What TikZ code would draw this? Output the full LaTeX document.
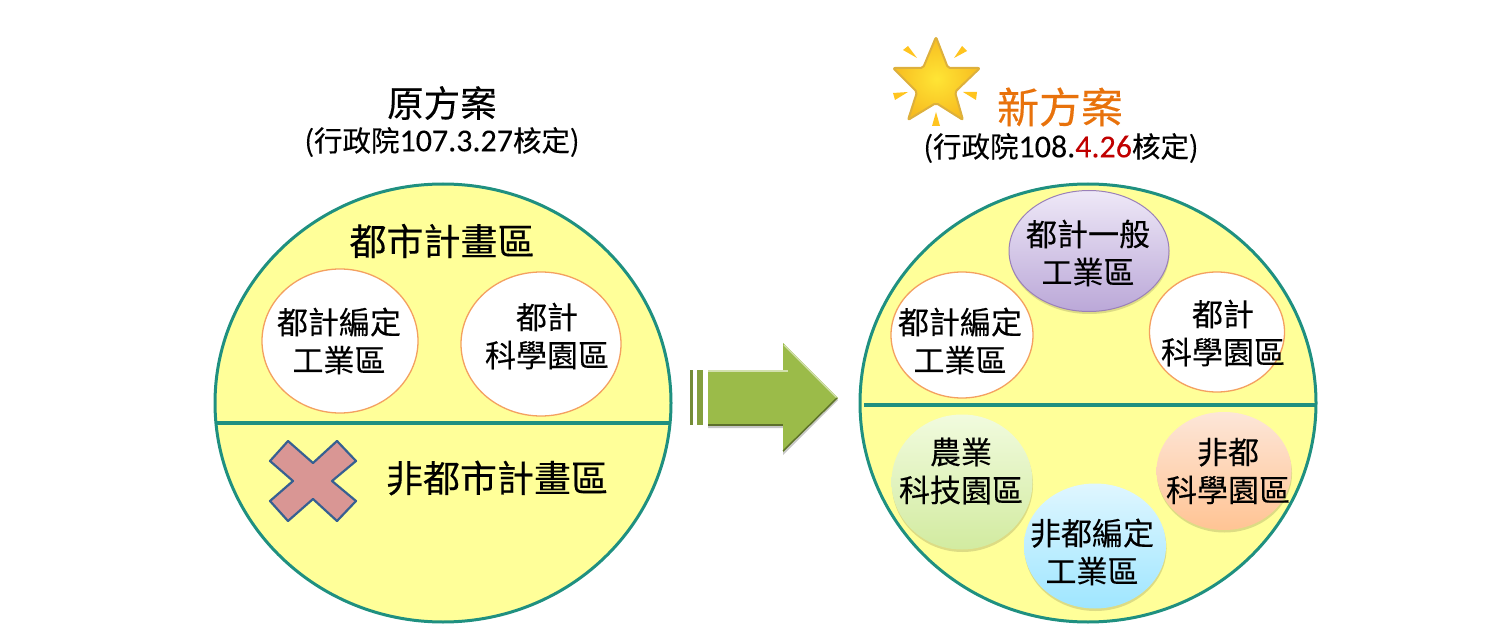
\documentclass[tikz,border=0pt]{standalone}
\usepackage{fontspec}
\setmainfont[FakeBold=0.25]{Noto Sans CJK TC}
\newfontfamily\latf[FakeBold=0.1]{Carlito}
\usetikzlibrary{shapes.geometric,shadows}
\definecolor{zoneyellow}{HTML}{FFFF99}
\definecolor{zoneteal}{HTML}{1F9080}
\definecolor{ringorange}{HTML}{F4A060}
\definecolor{oran}{HTML}{E8720C}
\definecolor{redd}{HTML}{C00000}
\definecolor{crossfill}{HTML}{D99694}
\definecolor{crossline}{HTML}{376092}
\definecolor{arrowmid}{HTML}{9BBB49}
\definecolor{starin}{HTML}{FFE535}
\definecolor{starout}{HTML}{F7BC20}
\definecolor{starline}{HTML}{DDB03C}
\definecolor{rayc}{HTML}{FFC41F}
\definecolor{purpT}{HTML}{EEE8F7}
\definecolor{purpB}{HTML}{BBA8D8}
\definecolor{purpL}{HTML}{9A80B8}
\definecolor{greenT}{HTML}{F1FBDE}
\definecolor{greenB}{HTML}{D2EBA0}
\definecolor{orT}{HTML}{FDE6D8}
\definecolor{orB}{HTML}{FFC494}
\definecolor{blT}{HTML}{DFF6FF}
\definecolor{blB}{HTML}{9FE6FF}
\tikzset{
  zone/.style={ellipse,draw=zoneteal,line width=3pt,fill=zoneyellow,inner sep=0pt,minimum width=456pt,minimum height=438pt},
  divider/.style={draw=zoneteal,line width=3.2pt},
  bubble/.style={ellipse,inner sep=0pt},
  plain/.style={bubble,fill=white,draw=ringorange,line width=1.3pt},
  soft/.style={bubble,drop shadow={shadow xshift=0.5pt,shadow yshift=-2.5pt,opacity=.25,fill=black!60!yellow}},
  lbl/.style={inner sep=0pt,align=center,font=\fontsize{31}{38}\selectfont},
  zonelbl/.style={inner sep=0pt,font=\fontsize{37}{40}\selectfont},
  subt/.style={inner sep=0pt,font=\fontsize{28.5}{30}\selectfont},
}
\begin{document}
\begin{tikzpicture}[x=1pt,y=-1pt]
\useasboundingbox (0,0) rectangle (1491,628);
% titles
\node[inner sep=0pt,font=\fontsize{36.5}{40}\selectfont] (t1) at (442,103) {原方案};
\node[subt] (s1) at (442,142) {(行政院{\latf\fontsize{32}{30}\selectfont 107.3.27}核定)};
\node[inner sep=0pt,text=oran,font=\fontsize{42}{44}\selectfont] (t2) at (1060,107) {新方案};
\node[subt] (s2) at (1061,148) {(行政院{\latf\fontsize{32}{30}\selectfont 108.\textcolor{redd}{4.26}}核定)};
% star
\path[draw=starline,line width=2pt,rounded corners=2pt,line join=round,
  shading=radial,inner color=starin,outer color=starout]
  (936,37) -- (948,68) -- (980,68) -- (955,92) -- (963,120) -- (936,103) -- (908,120) -- (917,92) -- (893,68) -- (923,68) -- cycle;
\foreach \r in {{(903,50) -- (908,46) -- (917,58)},{(954,58) -- (962,46) -- (967,51)},{(893,93) -- (908,92) -- (895,100)},{(963,92) -- (977,92) -- (976,100)},{(936,112) -- (932,126) -- (940,126)}}
  \fill[rayc] \r -- cycle;
% zones
\node[zone] (zl) at (443,403) {};
\node[zone] (zr) at (1088,403) {};
\coordinate (dl1) at (216,423); \coordinate (dl2) at (671,423);
\coordinate (dr1) at (864,405); \coordinate (dr2) at (1316,405);
\draw[divider] (dl1) -- (dl2);
\draw[divider] (dr1) -- (dr2);
% left
\node[zonelbl] (lt1) at (442,241) {都市計畫區};
\node[zonelbl] (lt2) at (497,478) {非都市計畫區};
\node[plain,minimum width=156pt,minimum height=144pt] (la) at (340,341) {};
\node[plain,minimum width=160pt,minimum height=144pt] (lb) at (541,344) {};
\node[lbl] (lat) at (339,341) {都計編定\\工業區};
\node[lbl] (lbt) at (547,336) {都計\\科學園區};
\path[fill=crossfill,draw=crossline,line width=2.2pt,line join=round]
  (288,441) -- (313,463) -- (337,441) -- (356,461) -- (332,481) -- (356,501) -- (337,521) -- (313,499) -- (288,521) -- (270,501) -- (293,481) -- (270,461) -- cycle;
% arrow
\fill[arrowmid!75!black] (690,370) rectangle (693,425);
\fill[arrowmid!85!black] (697,370) rectangle (703,425);
\fill[black,opacity=.22] (708,372) -- (783,372) -- (783,345) -- (838,400) -- (783,455) -- (783,428) -- (708,428) -- cycle;
\path[fill=arrowmid] (708,370) -- (783,370) -- (783,343) -- (838,398) -- (783,452) -- (783,425) -- (708,425) -- cycle;
\draw[arrowmid!45!white,line width=1.4pt] (708,371) -- (788,371);
\draw[arrowmid!45!white,line width=1.4pt] (784,345) -- (837,398);
\draw[arrowmid!60!black,line width=1.4pt] (837,398) -- (783,451);
\draw[arrowmid!60!black,line width=1.4pt] (708,425) -- (783,425);
% right
\node[soft,draw=purpL,line width=1pt,top color=purpT,bottom color=purpB,minimum width=160pt,minimum height=121pt] (ra) at (1089,251) {};
\node[lbl] (rat) at (1088,253) {都計一般\\工業區};
\node[plain,minimum width=142pt,minimum height=126pt] (rb) at (962,335) {};
\node[lbl] (rbt) at (960,341) {都計編定\\工業區};
\node[plain,minimum width=135pt,minimum height=120pt] (rc) at (1217,332) {};
\node[lbl] (rct) at (1223,333) {都計\\科學園區};
\node[soft,top color=greenT,bottom color=greenB,minimum width=141pt,minimum height=135pt] (rd) at (962,482) {};
\node[lbl] (rdt) at (961,471) {農業\\科技園區};
\node[soft,top color=orT,bottom color=orB,minimum width=135pt,minimum height=118pt] (re) at (1224,471) {};
\node[lbl] (ret) at (1228,471) {非都\\科學園區};
\node[soft,top color=blT,bottom color=blB,minimum width=142pt,minimum height=125pt] (rf) at (1095,546) {};
\node[lbl] (rft) at (1092,552) {非都編定\\工業區};
\end{tikzpicture}
\end{document}
